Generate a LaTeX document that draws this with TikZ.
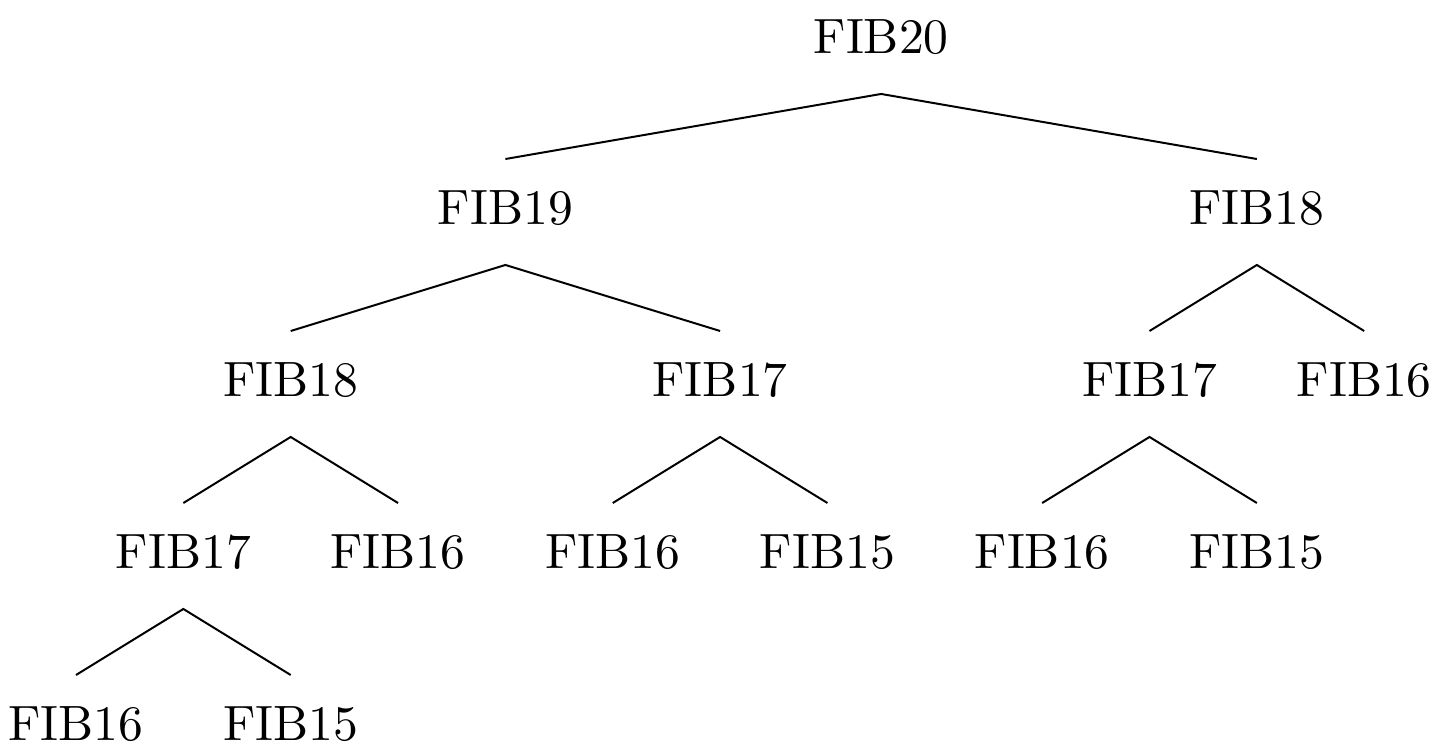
\documentclass[tikz,border=0pt]{standalone}
\begin{document}
\begin{tikzpicture}[x=0.2016pt,y=-0.2016pt,
  fib/.style={anchor=base,inner sep=0pt,text height=13.1pt,text depth=7.86pt,font=\fontsize{10}{12}\selectfont},
  edge/.style={line width=0.4pt}]
\useasboundingbox (0,0) rectangle (1442,750);
\def\u{107.35}
% level 1
\node[fib] (r) at (76+7.5*\u,54) {FIB20};
% level 2
\node[fib] (a) at (76+4*\u,225) {FIB19};
\node[fib] (b) at (76+11*\u,225) {FIB18};
% level 3
\node[fib] (aa) at (76+2*\u,397) {FIB18};
\node[fib] (ab) at (76+6*\u,397) {FIB17};
\node[fib] (ba) at (76+10*\u,397) {FIB17};
\node[fib] (bb) at (76+12*\u,397) {FIB16};
% level 4
\node[fib] (aaa) at (76+1*\u,569) {FIB17};
\node[fib] (aab) at (76+3*\u,569) {FIB16};
\node[fib] (aba) at (76+5*\u,569) {FIB16};
\node[fib] (abb) at (76+7*\u,569) {FIB15};
\node[fib] (baa) at (76+9*\u,569) {FIB16};
\node[fib] (bab) at (76+11*\u,569) {FIB15};
% level 5
\node[fib] (aaaa) at (76,741) {FIB16};
\node[fib] (aaab) at (76+2*\u,741) {FIB15};
% edges
\draw[edge] (a.north) -- (r.south) -- (b.north);
\draw[edge] (aa.north) -- (a.south) -- (ab.north);
\draw[edge] (ba.north) -- (b.south) -- (bb.north);
\draw[edge] (aaa.north) -- (aa.south) -- (aab.north);
\draw[edge] (aba.north) -- (ab.south) -- (abb.north);
\draw[edge] (baa.north) -- (ba.south) -- (bab.north);
\draw[edge] (aaaa.north) -- (aaa.south) -- (aaab.north);
\end{tikzpicture}
\end{document}
